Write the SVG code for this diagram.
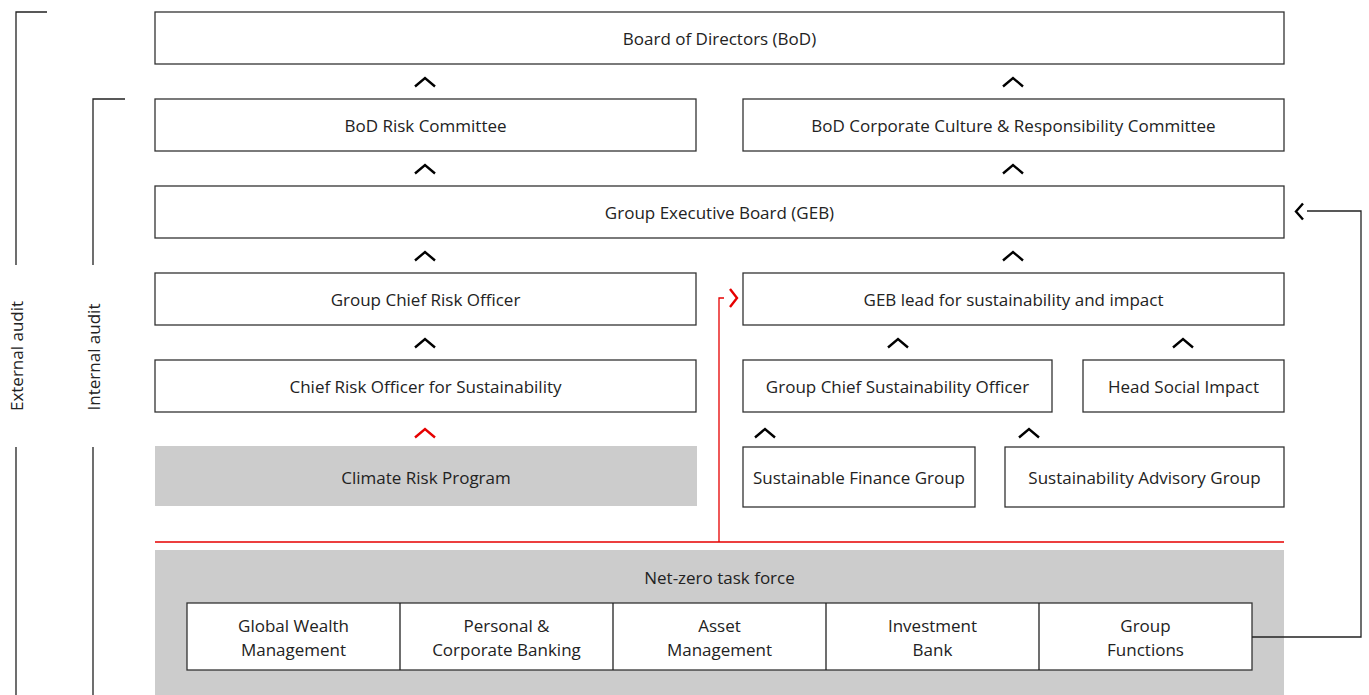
<svg xmlns="http://www.w3.org/2000/svg" width="1369" height="695" viewBox="0 0 1369 695">
<style>
.box{fill:#fff;stroke:#333;stroke-width:1.3}
.grey{fill:#ccc;stroke:none}
.t{font-family:"Open Sans","Noto Sans",sans-serif;font-size:17px;fill:#222;text-anchor:middle;dominant-baseline:central}
.chev{fill:none;stroke:#000;stroke-width:2.4}
.chevr{fill:none;stroke:#e60000;stroke-width:2.4}
.ln{fill:none;stroke:#222;stroke-width:1.3}
.red{fill:none;stroke:#e60000;stroke-width:1.3}
</style>
<defs>
<path id="up" d="M-10,4.5 L0,-4 L10,4.5"/>
</defs>
<g id="audit">
<path class="ln" d="M47,12 H16 V265 M16,447 V695"/>
<text class="t" transform="translate(16,356) rotate(-90)">External audit</text>
<path class="ln" d="M125,99 H93 V265 M93,447 V695"/>
<text class="t" transform="translate(93,357) rotate(-90)">Internal audit</text>
</g>
<g id="bod"><rect class="box" x="155" y="12" width="1129" height="52"/><text class="t" x="719.5" y="38">Board of Directors (BoD)</text></g>
<g id="riskcom"><rect class="box" x="155" y="99" width="541" height="52"/><text class="t" x="425.5" y="125">BoD Risk Committee</text></g>
<g id="ccr"><rect class="box" x="743" y="99" width="541" height="52"/><text class="t" x="1013.5" y="125">BoD Corporate Culture &amp; Responsibility Committee</text></g>
<g id="geb"><rect class="box" x="155" y="186" width="1129" height="52"/><text class="t" x="719.5" y="212">Group Executive Board (GEB)</text></g>
<g id="gcro"><rect class="box" x="155" y="273" width="541" height="52"/><text class="t" x="425.5" y="299">Group Chief Risk Officer</text></g>
<g id="geblead"><rect class="box" x="743" y="273" width="541" height="52"/><text class="t" x="1013.5" y="299">GEB lead for sustainability and impact</text></g>
<g id="crosust"><rect class="box" x="155" y="360" width="541" height="52"/><text class="t" x="425.5" y="386">Chief Risk Officer for Sustainability</text></g>
<g id="gcso"><rect class="box" x="743" y="360" width="309" height="52"/><text class="t" x="897.5" y="386">Group Chief Sustainability Officer</text></g>
<g id="hsi"><rect class="box" x="1083" y="360" width="201" height="52"/><text class="t" x="1183.5" y="386">Head Social Impact</text></g>
<g id="crp"><rect class="grey" x="155" y="446" width="542" height="60"/><text class="t" x="426" y="477">Climate Risk Program</text></g>
<g id="sfg"><rect class="box" x="743" y="447" width="232" height="60"/><text class="t" x="859" y="477">Sustainable Finance Group</text></g>
<g id="sag"><rect class="box" x="1005" y="447" width="279" height="60"/><text class="t" x="1144.5" y="477">Sustainability Advisory Group</text></g>
<g id="netzero">
<rect class="grey" x="155" y="550" width="1129" height="145"/>
<text class="t" x="719.5" y="577">Net-zero task force</text>
<rect class="box" x="187" y="603" width="1065" height="67"/>
<path class="ln" d="M400,603 V670 M613,603 V670 M826,603 V670 M1039,603 V670"/>
<text class="t" x="293.5" y="625">Global Wealth</text><text class="t" x="293.5" y="649">Management</text>
<text class="t" x="506.5" y="625">Personal &amp;</text><text class="t" x="506.5" y="649">Corporate Banking</text>
<text class="t" x="719.5" y="625">Asset</text><text class="t" x="719.5" y="649">Management</text>
<text class="t" x="932.5" y="625">Investment</text><text class="t" x="932.5" y="649">Bank</text>
<text class="t" x="1145.5" y="625">Group</text><text class="t" x="1145.5" y="649">Functions</text>
</g>
<g id="connectors">
<use href="#up" class="chev" x="425" y="82"/>
<use href="#up" class="chev" x="1013" y="82"/>
<use href="#up" class="chev" x="425" y="169"/>
<use href="#up" class="chev" x="1013" y="169"/>
<use href="#up" class="chev" x="425" y="256"/>
<use href="#up" class="chev" x="1013" y="256"/>
<use href="#up" class="chev" x="425" y="343"/>
<use href="#up" class="chev" x="898" y="343"/>
<use href="#up" class="chev" x="1183" y="343"/>
<use href="#up" class="chevr" x="425" y="433"/>
<use href="#up" class="chev" x="765" y="433"/>
<use href="#up" class="chev" x="1029" y="433"/>
<path class="red" d="M155,542 H1284 M719,542 V298 H724"/>
<path class="chevr" d="M730,289 L737,298 L730,307"/>
<path class="ln" d="M1252,637 H1361 V211 H1307"/>
<path class="chev" d="M1303,203.5 L1296,211.5 L1303,219.5"/>
</g>
</svg>
